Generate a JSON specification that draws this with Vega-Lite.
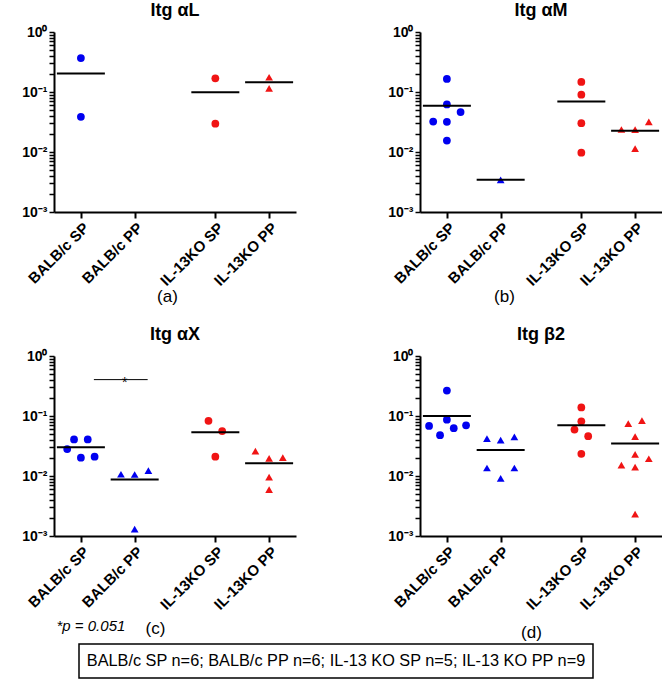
{
  "$schema": "https://vega.github.io/schema/vega-lite/v6.json",
  "padding": {"left": 21, "top": 2, "right": 0, "bottom": 0},
  "background": "white",
  "config": {
    "view": {"stroke": null},
    "font": "Liberation Sans",
    "title": {"font": "Liberation Sans", "fontSize": 18, "fontWeight": "bold", "color": "black", "offset": 5},
    "axis": {"domainColor": "black", "domainWidth": 2, "tickColor": "black", "tickWidth": 2, "labelFont": "Liberation Sans", "labelFontWeight": "bold", "labelColor": "black", "grid": false, "titleFont": "Liberation Sans", "titleFontWeight": "normal", "titleFontSize": 17, "titleColor": "black"},
    "axisX": {"labelAngle": -45, "labelFontSize": 15, "tickSize": 6, "labelPadding": 2, "titlePadding": 0},
    "axisY": {"labelFontSize": 14, "tickSize": 5, "labelPadding": 2, "tickWidth": 1.5}
  },
  "datasets": {
    "pts": [
      {"p": "a", "g": "BALB/c SP", "v": 0.368, "slot": 0},
      {"p": "a", "g": "BALB/c SP", "v": 0.0386, "slot": 0},
      {"p": "a", "g": "IL-13KO SP", "v": 0.169, "slot": 0},
      {"p": "a", "g": "IL-13KO SP", "v": 0.0297, "slot": 0},
      {"p": "a", "g": "IL-13KO PP", "v": 0.176, "slot": 0},
      {"p": "a", "g": "IL-13KO PP", "v": 0.115, "slot": 0},
      {"p": "b", "g": "BALB/c SP", "v": 0.165, "slot": 0},
      {"p": "b", "g": "BALB/c SP", "v": 0.0621, "slot": 0},
      {"p": "b", "g": "BALB/c SP", "v": 0.0462, "slot": 1},
      {"p": "b", "g": "BALB/c SP", "v": 0.0322, "slot": -1},
      {"p": "b", "g": "BALB/c SP", "v": 0.0319, "slot": 0},
      {"p": "b", "g": "BALB/c SP", "v": 0.0155, "slot": 0},
      {"p": "b", "g": "BALB/c PP", "v": 0.00344, "slot": 0},
      {"p": "b", "g": "IL-13KO SP", "v": 0.147, "slot": 0},
      {"p": "b", "g": "IL-13KO SP", "v": 0.0902, "slot": 0},
      {"p": "b", "g": "IL-13KO SP", "v": 0.0302, "slot": 0},
      {"p": "b", "g": "IL-13KO SP", "v": 0.00975, "slot": 0},
      {"p": "b", "g": "IL-13KO PP", "v": 0.0237, "slot": -1},
      {"p": "b", "g": "IL-13KO PP", "v": 0.0236, "slot": 0},
      {"p": "b", "g": "IL-13KO PP", "v": 0.0318, "slot": 1},
      {"p": "b", "g": "IL-13KO PP", "v": 0.0114, "slot": 0},
      {"p": "c", "g": "BALB/c SP", "v": 0.0407, "slot": -0.5},
      {"p": "c", "g": "BALB/c SP", "v": 0.0407, "slot": 0.5},
      {"p": "c", "g": "BALB/c SP", "v": 0.0281, "slot": -1},
      {"p": "c", "g": "BALB/c SP", "v": 0.0202, "slot": 0},
      {"p": "c", "g": "BALB/c SP", "v": 0.021, "slot": 1},
      {"p": "c", "g": "BALB/c PP", "v": 0.0107, "slot": -1},
      {"p": "c", "g": "BALB/c PP", "v": 0.0106, "slot": 0},
      {"p": "c", "g": "BALB/c PP", "v": 0.0123, "slot": 1},
      {"p": "c", "g": "BALB/c PP", "v": 0.0013, "slot": 0},
      {"p": "c", "g": "IL-13KO SP", "v": 0.0831, "slot": -0.5},
      {"p": "c", "g": "IL-13KO SP", "v": 0.056, "slot": 0.5},
      {"p": "c", "g": "IL-13KO SP", "v": 0.021, "slot": 0},
      {"p": "c", "g": "IL-13KO PP", "v": 0.026, "slot": -1},
      {"p": "c", "g": "IL-13KO PP", "v": 0.0197, "slot": 0},
      {"p": "c", "g": "IL-13KO PP", "v": 0.0202, "slot": 1},
      {"p": "c", "g": "IL-13KO PP", "v": 0.0096, "slot": 0},
      {"p": "c", "g": "IL-13KO PP", "v": 0.00593, "slot": 0},
      {"p": "d", "g": "BALB/c SP", "v": 0.266, "slot": 0},
      {"p": "d", "g": "BALB/c SP", "v": 0.0869, "slot": 0},
      {"p": "d", "g": "BALB/c SP", "v": 0.0683, "slot": -1.3},
      {"p": "d", "g": "BALB/c SP", "v": 0.07, "slot": 1.4},
      {"p": "d", "g": "BALB/c SP", "v": 0.0625, "slot": 0.5},
      {"p": "d", "g": "BALB/c SP", "v": 0.0478, "slot": -0.5},
      {"p": "d", "g": "BALB/c PP", "v": 0.0421, "slot": -1},
      {"p": "d", "g": "BALB/c PP", "v": 0.0395, "slot": 0},
      {"p": "d", "g": "BALB/c PP", "v": 0.0449, "slot": 1},
      {"p": "d", "g": "BALB/c PP", "v": 0.0136, "slot": -1},
      {"p": "d", "g": "BALB/c PP", "v": 0.0136, "slot": 1},
      {"p": "d", "g": "BALB/c PP", "v": 0.00915, "slot": 0},
      {"p": "d", "g": "IL-13KO SP", "v": 0.139, "slot": 0},
      {"p": "d", "g": "IL-13KO SP", "v": 0.0816, "slot": 0},
      {"p": "d", "g": "IL-13KO SP", "v": 0.0593, "slot": -0.5},
      {"p": "d", "g": "IL-13KO SP", "v": 0.046, "slot": 0.5},
      {"p": "d", "g": "IL-13KO SP", "v": 0.0234, "slot": 0},
      {"p": "d", "g": "IL-13KO PP", "v": 0.0837, "slot": 0.5},
      {"p": "d", "g": "IL-13KO PP", "v": 0.0746, "slot": -0.5},
      {"p": "d", "g": "IL-13KO PP", "v": 0.0454, "slot": 0},
      {"p": "d", "g": "IL-13KO PP", "v": 0.0229, "slot": 0},
      {"p": "d", "g": "IL-13KO PP", "v": 0.0194, "slot": 1},
      {"p": "d", "g": "IL-13KO PP", "v": 0.0152, "slot": -1},
      {"p": "d", "g": "IL-13KO PP", "v": 0.0141, "slot": 0},
      {"p": "d", "g": "IL-13KO PP", "v": 0.00232, "slot": 0}
    ],
    "sig": [{"g1": "BALB/c SP", "g2": "BALB/c PP", "v": 0.404, "s": "*"}],
    "note": [{"t": "BALB/c SP n=6; BALB/c PP n=6; IL-13 KO SP n=5; IL-13 KO PP n=9"}]
  },
  "vconcat": [
    {
      "vconcat": [
        {
          "hconcat": [
            {
              "width": 242, "height": 180,
              "title": "Itg αL",
              "data": {"name": "pts"},
              "transform": [{"filter": "datum.p === 'a'"}],
              "encoding": {
                "x": {"field": "g", "type": "nominal", "scale": {"type": "point", "domain": ["BALB/c SP", "_1", "BALB/c PP", "_2", "_3", "IL-13KO SP", "_4", "IL-13KO PP"], "padding": 1.43}, "axis": {"values": ["BALB/c SP", "BALB/c PP", "IL-13KO SP", "IL-13KO PP"], "title": "(a)", "titleX": 113}},
                "y": {"field": "v", "type": "quantitative", "scale": {"type": "log", "domain": [0.001, 1], "nice": false}, "axis": {"title": null, "values": [0.001,0.002,0.003,0.004,0.005,0.006,0.007,0.008,0.009,0.01,0.02,0.03,0.04,0.05,0.06,0.07,0.08,0.09,0.1,0.2,0.3,0.4,0.5,0.6,0.7,0.8,0.9,1], "labelExpr": "datum.value == 1 ? '10⁰' : datum.value == 0.1 ? '10⁻¹' : datum.value == 0.01 ? '10⁻²' : datum.value == 0.001 ? '10⁻³' : ''"}}
              },
              "layer": [
                {"mark": {"type": "point", "filled": true, "size": 60, "opacity": 1},
                 "encoding": {
                   "xOffset": {"field": "slot", "type": "quantitative", "scale": {"domain": [-2, 2], "range": [-27.4, 27.4]}},
                   "color": {"field": "g", "type": "nominal", "scale": {"domain": ["BALB/c SP", "BALB/c PP", "IL-13KO SP", "IL-13KO PP"], "range": ["#0000f0", "#0000f0", "#f01414", "#f01414"]}, "legend": null},
                   "shape": {"field": "g", "type": "nominal", "scale": {"domain": ["BALB/c SP", "BALB/c PP", "IL-13KO SP", "IL-13KO PP"], "range": ["circle", "triangle-up", "circle", "triangle-up"]}, "legend": null}
                 }},
                {"mark": {"type": "tick", "color": "black", "thickness": 2, "size": 48},
                 "encoding": {"y": {"aggregate": "mean", "field": "v", "type": "quantitative"}}}
              ]
            },
            {
              "width": 242, "height": 180,
              "title": "Itg αM",
              "data": {"name": "pts"},
              "transform": [{"filter": "datum.p === 'b'"}],
              "encoding": {
                "x": {"field": "g", "type": "nominal", "scale": {"type": "point", "domain": ["BALB/c SP", "_1", "BALB/c PP", "_2", "_3", "IL-13KO SP", "_4", "IL-13KO PP"], "padding": 1.43}, "axis": {"values": ["BALB/c SP", "BALB/c PP", "IL-13KO SP", "IL-13KO PP"], "title": "(b)", "titleX": 84}},
                "y": {"field": "v", "type": "quantitative", "scale": {"type": "log", "domain": [0.001, 1], "nice": false}, "axis": {"title": null, "values": [0.001,0.002,0.003,0.004,0.005,0.006,0.007,0.008,0.009,0.01,0.02,0.03,0.04,0.05,0.06,0.07,0.08,0.09,0.1,0.2,0.3,0.4,0.5,0.6,0.7,0.8,0.9,1], "labelExpr": "datum.value == 1 ? '10⁰' : datum.value == 0.1 ? '10⁻¹' : datum.value == 0.01 ? '10⁻²' : datum.value == 0.001 ? '10⁻³' : ''"}}
              },
              "layer": [
                {"mark": {"type": "point", "filled": true, "size": 60, "opacity": 1},
                 "encoding": {
                   "xOffset": {"field": "slot", "type": "quantitative", "scale": {"domain": [-2, 2], "range": [-27.4, 27.4]}},
                   "color": {"field": "g", "type": "nominal", "scale": {"domain": ["BALB/c SP", "BALB/c PP", "IL-13KO SP", "IL-13KO PP"], "range": ["#0000f0", "#0000f0", "#f01414", "#f01414"]}, "legend": null},
                   "shape": {"field": "g", "type": "nominal", "scale": {"domain": ["BALB/c SP", "BALB/c PP", "IL-13KO SP", "IL-13KO PP"], "range": ["circle", "triangle-up", "circle", "triangle-up"]}, "legend": null}
                 }},
                {"mark": {"type": "tick", "color": "black", "thickness": 2, "size": 48},
                 "encoding": {"y": {"aggregate": "mean", "field": "v", "type": "quantitative"}}}
              ]
            }
          ],
          "spacing": 91
        },
        {
          "hconcat": [
            {
              "width": 242, "height": 180,
              "title": "Itg αX",
              "encoding": {
                "y": {"field": "v", "type": "quantitative", "scale": {"type": "log", "domain": [0.001, 1], "nice": false}, "axis": {"title": null, "values": [0.001,0.002,0.003,0.004,0.005,0.006,0.007,0.008,0.009,0.01,0.02,0.03,0.04,0.05,0.06,0.07,0.08,0.09,0.1,0.2,0.3,0.4,0.5,0.6,0.7,0.8,0.9,1], "labelExpr": "datum.value == 1 ? '10⁰' : datum.value == 0.1 ? '10⁻¹' : datum.value == 0.01 ? '10⁻²' : datum.value == 0.001 ? '10⁻³' : ''"}}
              },
              "layer": [
                {"data": {"name": "pts"},
                 "transform": [{"filter": "datum.p === 'c'"}],
                 "mark": {"type": "point", "filled": true, "size": 60, "opacity": 1},
                 "encoding": {
                   "x": {"field": "g", "type": "nominal", "scale": {"type": "point", "domain": ["BALB/c SP", "_1", "BALB/c PP", "_2", "_3", "IL-13KO SP", "_4", "IL-13KO PP"], "padding": 1.43}, "axis": {"values": ["BALB/c SP", "BALB/c PP", "IL-13KO SP", "IL-13KO PP"], "title": "(c)", "titleX": 101, "titlePadding": 8}},
                   "xOffset": {"field": "slot", "type": "quantitative", "scale": {"domain": [-2, 2], "range": [-27.4, 27.4]}},
                   "color": {"field": "g", "type": "nominal", "scale": {"domain": ["BALB/c SP", "BALB/c PP", "IL-13KO SP", "IL-13KO PP"], "range": ["#0000f0", "#0000f0", "#f01414", "#f01414"]}, "legend": null},
                   "shape": {"field": "g", "type": "nominal", "scale": {"domain": ["BALB/c SP", "BALB/c PP", "IL-13KO SP", "IL-13KO PP"], "range": ["circle", "triangle-up", "circle", "triangle-up"]}, "legend": null}
                 }},
                {"data": {"name": "pts"},
                 "transform": [{"filter": "datum.p === 'c'"}],
                 "mark": {"type": "tick", "color": "black", "thickness": 2, "size": 48},
                 "encoding": {
                   "x": {"field": "g", "type": "nominal", "axis": {"orient": "bottom", "title": "*p = 0.051", "labels": false, "ticks": false, "domain": false, "titleAnchor": "start", "titleAlign": "left", "titleX": 2, "titleFontStyle": "italic", "titleFontSize": 15, "titlePadding": 82}},
                   "y": {"aggregate": "mean", "field": "v", "type": "quantitative"}}},
                {"data": {"name": "sig"},
                 "mark": {"type": "rule", "color": "black", "strokeWidth": 1, "xOffset": 13, "x2Offset": 13},
                 "encoding": {"x": {"field": "g1", "type": "nominal", "axis": null}, "x2": {"field": "g2"}, "y": {"field": "v", "type": "quantitative"}}},
                {"data": {"name": "sig"},
                 "mark": {"type": "text", "color": "black", "fontSize": 14, "dx": -10, "dy": 3, "baseline": "middle"},
                 "encoding": {"x": {"field": "g2", "type": "nominal", "axis": null}, "y": {"field": "v", "type": "quantitative"}, "text": {"field": "s"}}}
              ],
              "resolve": {"axis": {"x": "independent"}}
            },
            {
              "width": 242, "height": 180,
              "title": "Itg β2",
              "data": {"name": "pts"},
              "transform": [{"filter": "datum.p === 'd'"}],
              "encoding": {
                "x": {"field": "g", "type": "nominal", "scale": {"type": "point", "domain": ["BALB/c SP", "_1", "BALB/c PP", "_2", "_3", "IL-13KO SP", "_4", "IL-13KO PP"], "padding": 1.43}, "axis": {"values": ["BALB/c SP", "BALB/c PP", "IL-13KO SP", "IL-13KO PP"], "title": "(d)", "titleX": 111, "titlePadding": 12}},
                "y": {"field": "v", "type": "quantitative", "scale": {"type": "log", "domain": [0.001, 1], "nice": false}, "axis": {"title": null, "values": [0.001,0.002,0.003,0.004,0.005,0.006,0.007,0.008,0.009,0.01,0.02,0.03,0.04,0.05,0.06,0.07,0.08,0.09,0.1,0.2,0.3,0.4,0.5,0.6,0.7,0.8,0.9,1], "labelExpr": "datum.value == 1 ? '10⁰' : datum.value == 0.1 ? '10⁻¹' : datum.value == 0.01 ? '10⁻²' : datum.value == 0.001 ? '10⁻³' : ''"}}
              },
              "layer": [
                {"mark": {"type": "point", "filled": true, "size": 60, "opacity": 1},
                 "encoding": {
                   "xOffset": {"field": "slot", "type": "quantitative", "scale": {"domain": [-2, 2], "range": [-27.4, 27.4]}},
                   "color": {"field": "g", "type": "nominal", "scale": {"domain": ["BALB/c SP", "BALB/c PP", "IL-13KO SP", "IL-13KO PP"], "range": ["#0000f0", "#0000f0", "#f01414", "#f01414"]}, "legend": null},
                   "shape": {"field": "g", "type": "nominal", "scale": {"domain": ["BALB/c SP", "BALB/c PP", "IL-13KO SP", "IL-13KO PP"], "range": ["circle", "triangle-up", "circle", "triangle-up"]}, "legend": null}
                 }},
                {"mark": {"type": "tick", "color": "black", "thickness": 2, "size": 48},
                 "encoding": {"y": {"aggregate": "mean", "field": "v", "type": "quantitative"}}}
              ]
            }
          ],
          "spacing": 91
        }
      ],
      "spacing": 21
    },
    {
      "hconcat": [
        {"width": 24, "height": 34, "data": {"values": []}, "mark": "point"},
        {
          "width": 514, "height": 34,
          "data": {"name": "note"},
          "view": {"stroke": "black", "strokeWidth": 1.5},
          "mark": {"type": "text", "font": "Liberation Sans", "fontSize": 16.3, "color": "black", "align": "center", "baseline": "middle"},
          "encoding": {"text": {"field": "t", "type": "nominal"}}
        }
      ],
      "spacing": 0
    }
  ],
  "spacing": 2
}
